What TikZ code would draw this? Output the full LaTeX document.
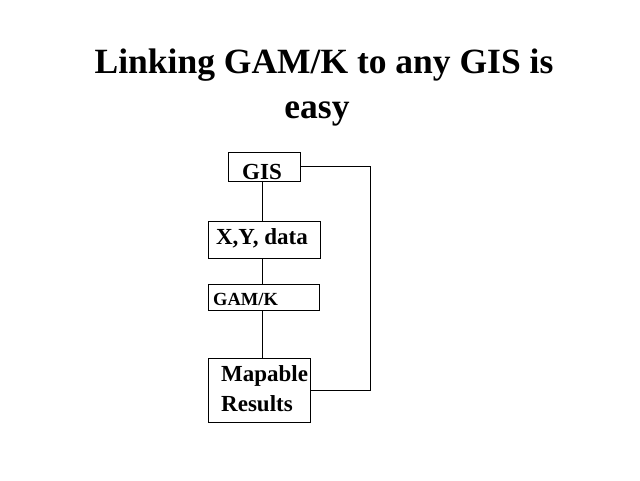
\documentclass[tikz,border=0pt]{standalone}
\usepackage{fontspec}
\setmainfont{Liberation Serif}
\begin{document}
\begin{tikzpicture}[x=1pt,y=-1pt,
  box/.style={draw,line width=0.8pt,anchor=north west,inner sep=0pt},
  lab/.style={font=\bfseries\fontsize{23}{25}\selectfont,inner sep=0pt},
  link/.style={line width=0.8pt}]
\useasboundingbox[fill=white] (0,0) rectangle (640,480);
\node[font=\bfseries\fontsize{35.5}{40}\selectfont,anchor=base] (t1) at (324,73) {Linking GAM/K to any GIS is};
\node[font=\bfseries\fontsize{35.5}{40}\selectfont,anchor=base] (t2) at (317,118) {easy};
% boxes
\node[box,minimum width=72pt,minimum height=29pt] (gis) at (228,152) {};
\node[box,minimum width=112pt,minimum height=37pt] (xy) at (208,221) {};
\node[box,minimum width=111pt,minimum height=26pt] (gam) at (208,284) {};
\node[box,minimum width=102pt,minimum height=64pt] (res) at (208,358) {};
% texts
\node[lab,anchor=base] (gist) at (262,179) {GIS};
\node[lab,anchor=base] (xyt) at (262,244) {X,Y, data};
\node[lab,font=\bfseries\fontsize{18.5}{20}\selectfont,anchor=base west] (gamt) at (213,305) {GAM/K};
\node[lab,anchor=base west,align=left] (rest) at (221,381) {Mapable};
\node[lab,anchor=base west,align=left] (rest2) at (221,411) {Results};
% connectors
\coordinate (c1) at (370,166);
\coordinate (c2) at (370,390);
\draw[link] (gis.south -| 262,0) -- (xy.north -| 262,0);
\draw[link] (xy.south -| 262,0) -- (gam.north -| 262,0);
\draw[link] (gam.south -| 262,0) -- (res.north -| 262,0);
\draw[link] (gis.east |- c1) -- (c1) -- (c2) -- (res.east |- c2);
\end{tikzpicture}
\end{document}
